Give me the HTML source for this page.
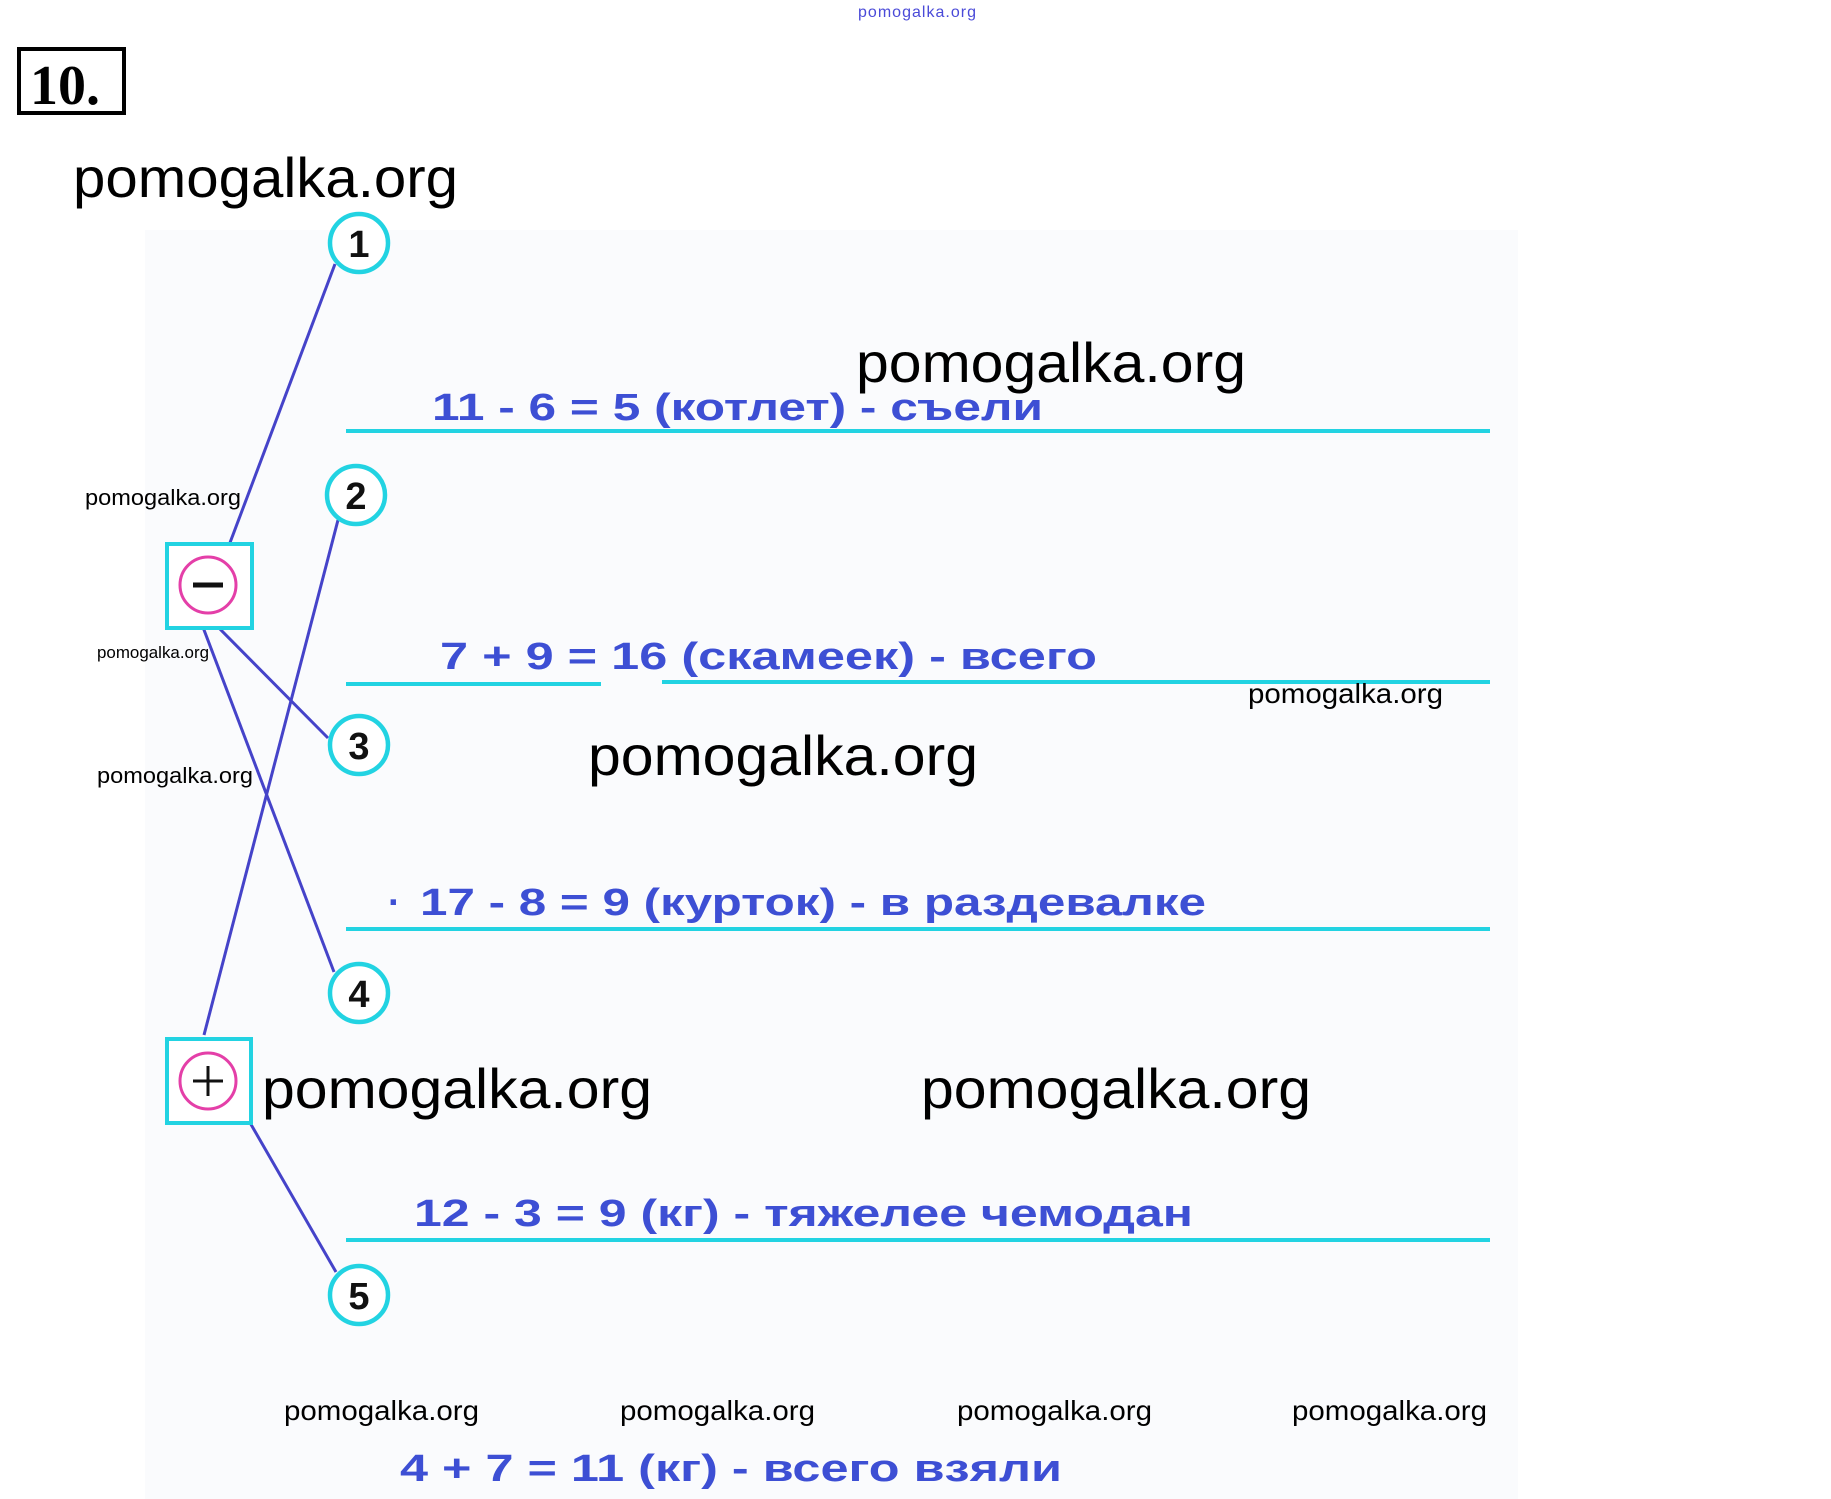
<!DOCTYPE html>
<html><head><meta charset="utf-8"><style>
html,body{margin:0;padding:0;background:#fff;}
svg{display:block;}
.w{font-family:"Liberation Sans",sans-serif;fill:#000;}
.e{font-family:"Liberation Sans","DejaVu Sans",sans-serif;font-weight:bold;fill:#3d4fd4;font-size:38px;}
.n{font-family:"Liberation Sans",sans-serif;font-weight:bold;font-size:38px;fill:#111;text-anchor:middle;}
</style></head><body>
<svg width="1831" height="1499" viewBox="0 0 1831 1499" xmlns="http://www.w3.org/2000/svg">
<rect x="145" y="230" width="1373" height="1269" fill="#fafbfd"/>
<text x="858" y="17" font-family="Liberation Sans,sans-serif" font-size="16" fill="#4a4ad8" textLength="118">pomogalka.org</text>
<rect x="19" y="49" width="105" height="64" fill="none" stroke="#000" stroke-width="4"/>
<text x="30" y="104" font-family="Liberation Serif,serif" font-weight="bold" font-size="56" fill="#000">10.</text>

<g stroke="#22d3e2" stroke-width="4">
<line x1="346" y1="431" x2="1490" y2="431"/>
<line x1="346" y1="684" x2="601" y2="684"/>
<line x1="662" y1="682" x2="1490" y2="682"/>
<line x1="346" y1="929" x2="1490" y2="929"/>
<line x1="346" y1="1240" x2="1490" y2="1240"/>
</g>

<g stroke="#4543c9" stroke-width="3" fill="none">
<line x1="228" y1="548" x2="335" y2="264"/>
<line x1="204" y1="1035" x2="338" y2="520"/>
<line x1="215" y1="624" x2="328" y2="738"/>
<line x1="201" y1="622" x2="334" y2="972"/>
<line x1="245" y1="1114" x2="336" y2="1272"/>
</g>

<g fill="#fff" stroke="#22d3e2" stroke-width="4.5">
<circle cx="359" cy="243" r="29"/>
<circle cx="356" cy="495" r="29"/>
<circle cx="359" cy="745" r="29"/>
<circle cx="359" cy="993" r="29"/>
<circle cx="359" cy="1295" r="29"/>
</g>
<text class="n" x="359" y="257">1</text>
<text class="n" x="356" y="509">2</text>
<text class="n" x="359" y="759">3</text>
<text class="n" x="359" y="1007">4</text>
<text class="n" x="359" y="1309">5</text>

<rect x="167" y="544" width="85" height="84" fill="#fff" stroke="#22d3e2" stroke-width="4"/>
<circle cx="208" cy="585" r="28" fill="none" stroke="#e43fa8" stroke-width="3"/>
<line x1="193" y1="585" x2="223" y2="585" stroke="#111" stroke-width="5"/>
<rect x="167" y="1039" width="84" height="84" fill="#fff" stroke="#22d3e2" stroke-width="4"/>
<circle cx="208" cy="1081" r="28" fill="none" stroke="#e43fa8" stroke-width="3"/>
<line x1="193" y1="1081" x2="223" y2="1081" stroke="#111" stroke-width="3"/>
<line x1="208" y1="1066" x2="208" y2="1096" stroke="#111" stroke-width="3"/>

<text class="e" x="432" y="420" textLength="611" lengthAdjust="spacingAndGlyphs">11 - 6 = 5 (котлет) - съели</text>
<text class="e" x="440" y="669" textLength="657" lengthAdjust="spacingAndGlyphs">7 + 9 = 16 (скамеек) - всего</text>
<text class="e" x="388" y="915" font-size="20">·</text>
<text class="e" x="420" y="915" textLength="786" lengthAdjust="spacingAndGlyphs">17 - 8 = 9 (курток) - в раздевалке</text>
<text class="e" x="414" y="1226" textLength="779" lengthAdjust="spacingAndGlyphs">12 - 3 = 9 (кг) - тяжелее чемодан</text>
<text class="e" x="400" y="1481" textLength="662" lengthAdjust="spacingAndGlyphs">4 + 7 = 11 (кг) - всего взяли</text>

<g class="w">
<text x="73" y="197" font-size="56" textLength="385" lengthAdjust="spacingAndGlyphs">pomogalka.org</text>
<text x="856" y="382" font-size="56" textLength="390" lengthAdjust="spacingAndGlyphs">pomogalka.org</text>
<text x="588" y="775" font-size="56" textLength="390" lengthAdjust="spacingAndGlyphs">pomogalka.org</text>
<text x="262" y="1108" font-size="56" textLength="390" lengthAdjust="spacingAndGlyphs">pomogalka.org</text>
<text x="921" y="1108" font-size="56" textLength="390" lengthAdjust="spacingAndGlyphs">pomogalka.org</text>
<text x="85" y="505" font-size="22" textLength="156" lengthAdjust="spacingAndGlyphs">pomogalka.org</text>
<text x="97" y="658" font-size="17" textLength="112" lengthAdjust="spacingAndGlyphs">pomogalka.org</text>
<text x="97" y="783" font-size="22" textLength="156" lengthAdjust="spacingAndGlyphs">pomogalka.org</text>
<text x="1248" y="703" font-size="28" textLength="195" lengthAdjust="spacingAndGlyphs">pomogalka.org</text>
<text x="284" y="1420" font-size="28" textLength="195" lengthAdjust="spacingAndGlyphs">pomogalka.org</text>
<text x="620" y="1420" font-size="28" textLength="195" lengthAdjust="spacingAndGlyphs">pomogalka.org</text>
<text x="957" y="1420" font-size="28" textLength="195" lengthAdjust="spacingAndGlyphs">pomogalka.org</text>
<text x="1292" y="1420" font-size="28" textLength="195" lengthAdjust="spacingAndGlyphs">pomogalka.org</text>
</g>
</svg>
</body></html>
